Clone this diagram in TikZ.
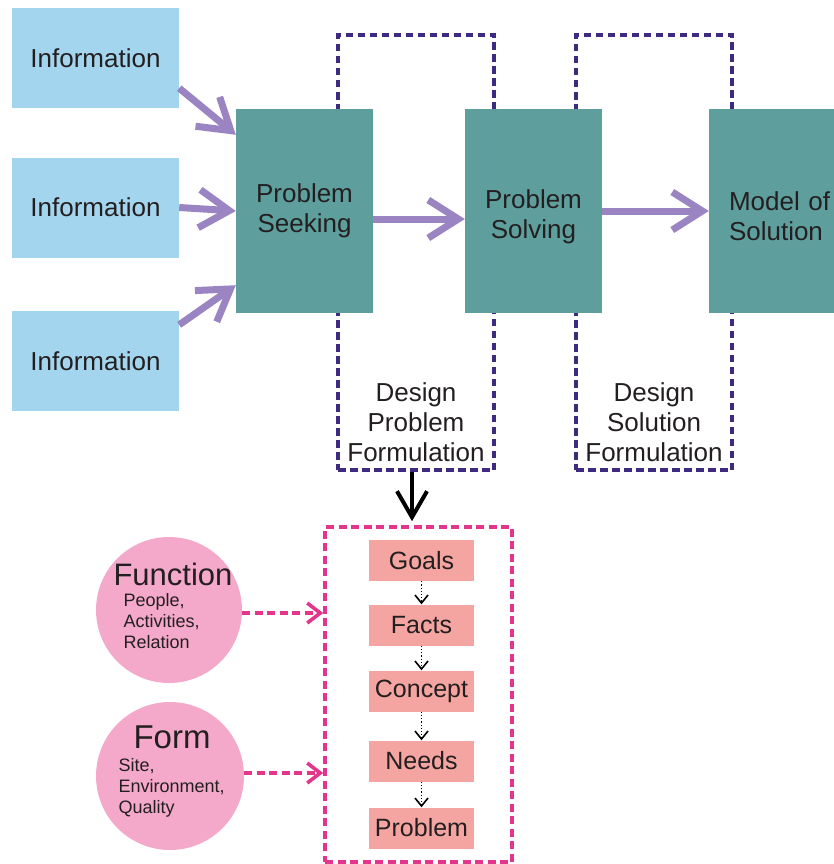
\documentclass[tikz,border=0pt]{standalone}
\usepackage{fontspec}
\setmainfont{Liberation Sans}
\usetikzlibrary{arrows.meta, positioning}
\definecolor{infoblue}{HTML}{A3D5EE}
\definecolor{tealbox}{HTML}{5E9F9E}
\definecolor{lavender}{HTML}{9A84C2}
\definecolor{dkpurple}{HTML}{3E2A80}
\definecolor{hotpink}{HTML}{E4358C}
\definecolor{salmon}{HTML}{F5A5A1}
\definecolor{rosefill}{HTML}{F5A9CA}
\definecolor{txtdark}{HTML}{231F20}

\begin{document}
\begin{tikzpicture}[x=1pt, y=-1pt,
  bigfont/.style={font=\fontsize{26}{30}\selectfont, text=txtdark},
  infobox/.style={bigfont, fill=infoblue, minimum width=167pt, minimum height=100pt},
  stagebox/.style={bigfont, fill=tealbox, minimum width=137pt, minimum height=204pt, align=center},
  loopbox/.style={draw=dkpurple, line width=3.6pt, dash pattern=on 7.5pt off 4.5pt, minimum width=156pt, minimum height=435pt},
  progbox/.style={draw=hotpink, line width=3.6pt, dash pattern=on 8pt off 4.5pt, minimum width=187pt, minimum height=335pt},
  stepcard/.style={font=\fontsize{25}{29}\selectfont, text=txtdark, fill=salmon, minimum width=105pt, minimum height=41pt},
  rosecircle/.style={circle, fill=rosefill},
  flow/.style={draw=lavender, line width=7pt, -{Straight Barb[length=30pt, width=38pt]}},
  feed/.style={draw=hotpink, line width=3.6pt, dash pattern=on 8pt off 4.5pt, -{Straight Barb[length=13pt, width=20pt]}},
  chain/.style={draw=black, line width=1.2pt, dotted, -{Straight Barb[length=8pt, width=13pt, line width=1.6pt]}}]

\useasboundingbox (0,0) rectangle (833,864);

% Dashed feedback frames (behind the stages)
\node[loopbox] (dpf) at (416,252.5) {};
\node[loopbox] (dsf) at (654,252.5) {};
\node[bigfont, align=center] (dpflabel) at (416,422) {Design\\Problem\\Formulation};
\node[bigfont, align=center] (dsflabel) at (654,422) {Design\\Solution\\Formulation};

% Information inputs
\node[infobox] (info1) at (95.5,58) {Information};
\node[infobox] (info2) at (95.5,207.5) {Information};
\node[infobox] (info3) at (95.5,361) {Information};

% Stages
\node[stagebox] (seeking) at (304.5,211) {Problem\\Seeking};
\node[stagebox, label={[bigfont, align=center, yshift=-6pt]center:Problem\\Solving}] (solving) at (533.5,211) {};
\node[stagebox, minimum width=150pt, label={[bigfont, align=left, text width=110pt, yshift=-5pt]center:Model of\\Solution}] (model) at (784,211) {};

% Purple flow arrows
\draw[flow] ([yshift=20pt]info1.south east) -- ([yshift=-26pt]seeking.north west);
\draw[flow] (info2.east) -- (seeking.west);
\draw[flow] ([yshift=-14pt]info3.north east) -- ([yshift=28pt]seeking.south west);
\draw[flow] ([yshift=-8pt]seeking.east) -- ([yshift=-8pt]solving.west);
\draw[flow] (solving.east) -- (model.west);

% Programming frame
\node[progbox] (prog) at (418.5,694.5) {};
\draw[black, line width=4pt, -{Straight Barb[length=26pt, width=30pt]}]
  ([xshift=-4pt]dpf.south) -- ([xshift=-6.5pt, yshift=4pt]prog.north);

% Steps
\node[stepcard] (goals) at (421.5,560.5) {Goals};
\node[stepcard] (facts) at (421.5,625) {Facts};
\node[stepcard] (concept) at (421.5,691) {Concept};
\node[stepcard] (needs) at (421.5,761) {Needs};
\node[stepcard] (problem) at (421.5,828) {Problem};
\draw[chain] (goals) -- (facts);
\draw[chain] (facts) -- (concept);
\draw[chain] (concept) -- (needs);
\draw[chain] (needs) -- (problem);

% Function and form
\node[rosecircle, minimum size=146pt] (funccircle) at (169,610) {};
\node[rosecircle, minimum size=148pt] (formcircle) at (170,776) {};
\node[font=\fontsize{31}{36}\selectfont, text=txtdark] (functitle) at (173,574) {Function};
\node[font=\fontsize{18}{21}\selectfont, text=txtdark, align=left, anchor=west] (funcsub) at (120,621) {People,\\Activities,\\Relation};
\node[font=\fontsize{33}{38}\selectfont, text=txtdark] (formtitle) at (172,737) {Form};
\node[font=\fontsize{18}{21}\selectfont, text=txtdark, align=left, anchor=west] (formsub) at (115,788) {Site,\\Environment,\\Quality};
\draw[feed] ([yshift=-3pt]funccircle.east) -- ([yshift=-3pt]funccircle.east -| prog.west);
\draw[feed] ([yshift=3pt]formcircle.east) -- ([yshift=3pt]formcircle.east -| prog.west);

\end{tikzpicture}
\end{document}
